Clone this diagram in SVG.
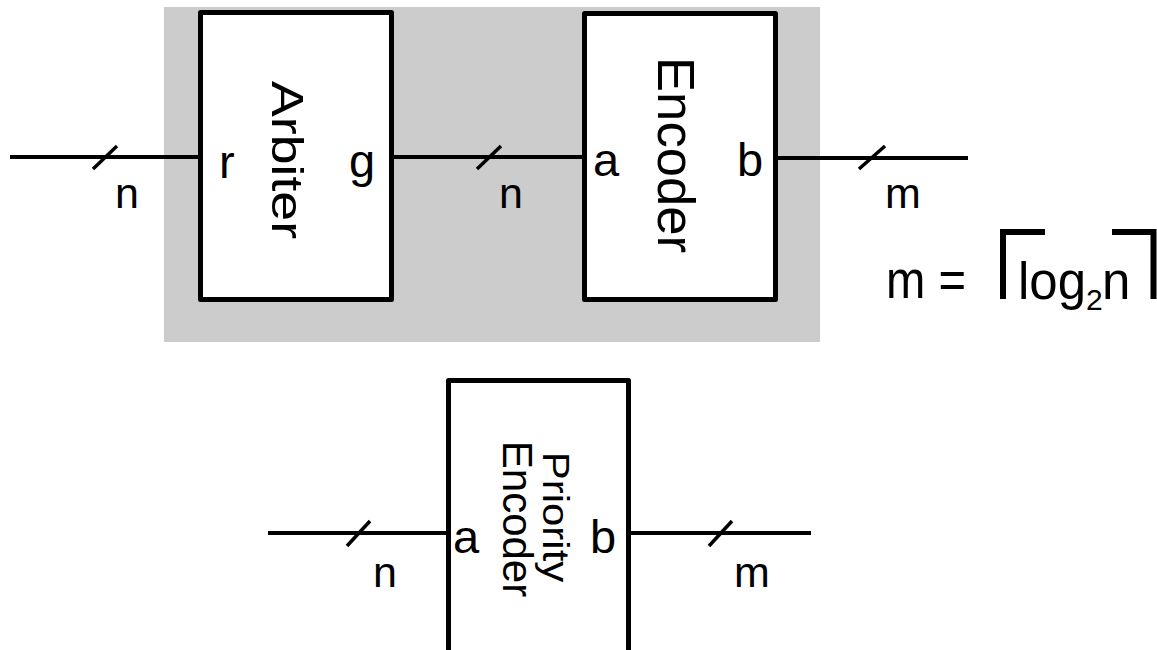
<svg xmlns="http://www.w3.org/2000/svg" width="1157" height="650" viewBox="0 0 1157 650">
<style>
.box{fill:#fff;stroke:#000;stroke-width:5;stroke-linejoin:round}
.w{stroke:#000;stroke-width:4;fill:none}
.sl{stroke:#000;stroke-width:3.5}
text{font-family:"Liberation Sans",Arial,sans-serif;fill:#000}
.port{font-size:47px}
.lbl{font-size:43px}
.br{stroke:#000;stroke-width:6;fill:none;stroke-linecap:butt}
</style>
<rect id="shade" x="164" y="7" width="656" height="335" fill="#cccccc"/>
<g id="connectors">
<line class="w" x1="10" y1="157" x2="200" y2="157"/>
<line class="sl" x1="93" y1="169" x2="117" y2="146"/>
<line class="w" x1="392" y1="157" x2="584" y2="157"/>
<line class="sl" x1="477" y1="169" x2="501" y2="146"/>
<line class="w" x1="776" y1="158" x2="968" y2="158"/>
<line class="sl" x1="859" y1="169" x2="885" y2="146"/>
<line class="w" x1="268" y1="533" x2="448" y2="533"/>
<line class="sl" x1="347" y1="546" x2="370" y2="521"/>
<line class="w" x1="629" y1="533" x2="811" y2="533"/>
<line class="sl" x1="709" y1="546" x2="732" y2="521"/>
<text class="lbl" x="115" y="208">n</text>
<text class="lbl" x="499" y="208">n</text>
<text class="lbl" x="885" y="208">m</text>
<text class="lbl" x="373" y="587">n</text>
<text class="lbl" x="734" y="587">m</text>
</g>
<g id="arbiter">
<rect class="box" x="200.5" y="12.5" width="191" height="287"/>
<text class="port" x="219" y="178">r</text>
<text class="port" x="349" y="177">g</text>
<text transform="translate(272,160) rotate(90)" font-size="44" text-anchor="middle" textLength="158" lengthAdjust="spacingAndGlyphs">Arbiter</text>
</g>
<g id="encoder">
<rect class="box" x="584.5" y="13.5" width="191" height="286"/>
<text class="port" x="593" y="176">a</text>
<text class="port" x="737" y="176">b</text>
<text transform="translate(658,155) rotate(90)" font-size="52" text-anchor="middle" textLength="196" lengthAdjust="spacingAndGlyphs">Encoder</text>
</g>
<g id="priority-encoder">
<rect class="box" x="448.5" y="380.5" width="180" height="300"/>
<text class="port" x="453" y="553">a</text>
<text class="port" x="590" y="553">b</text>
<text transform="translate(543,517) rotate(90) scale(1,0.88)" font-size="42" text-anchor="middle">Priority</text>
<text transform="translate(503,519) rotate(90)" font-size="42" text-anchor="middle">Encoder</text>
</g>
<g id="formula">
<text x="886" y="298" font-size="54" textLength="80" lengthAdjust="spacingAndGlyphs">m =</text>
<polyline class="br" points="1003,299 1003,232 1045,232"/>
<text x="1018" y="299" font-size="51">log</text>
<text x="1086" y="310" font-size="30">2</text>
<text x="1102" y="299" font-size="51">n</text>
<polyline class="br" points="1112,232 1153.5,232 1153.5,299"/>
</g>
</svg>
